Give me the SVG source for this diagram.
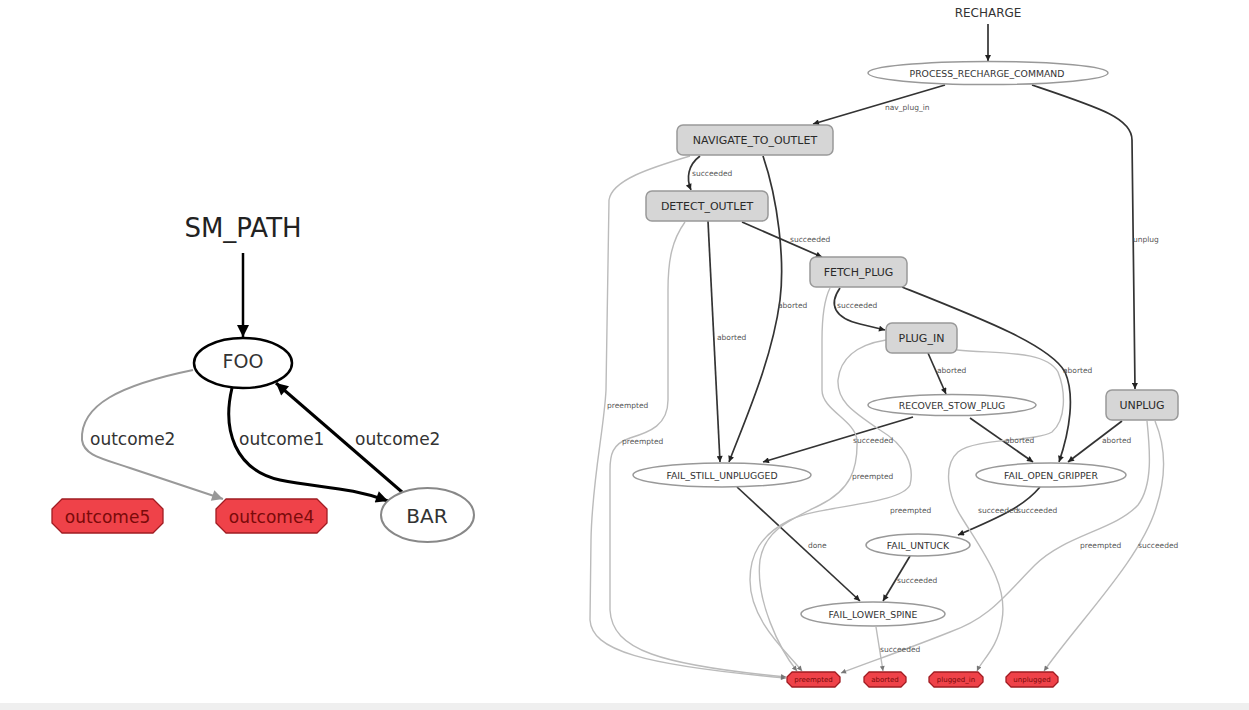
<svg xmlns="http://www.w3.org/2000/svg" width="1249" height="710" viewBox="0 0 1249 710">
<style>
text{font-family:"DejaVu Sans","Liberation Sans",sans-serif;fill:#333}
.big{font-size:26px;fill:#222}
.lbl{font-size:17px;fill:#333}
.nl{font-size:11px;text-anchor:middle;fill:#2a2a2a}
.ne{font-size:9.3px;text-anchor:middle}
.el{font-size:7.5px;fill:#555}
.ot{font-size:17px;text-anchor:middle;fill:#7a0a0a}
.ots{font-size:7px;text-anchor:middle;fill:#7a0a0a}
.rect{fill:#d6d6d6;stroke:#999;stroke-width:1.5}
.ell{fill:#fff;stroke:#999;stroke-width:1.5}
.out{fill:#ef4249;stroke:#a01c22;stroke-width:1.3;stroke-linejoin:round}
.e{fill:none;stroke:#333;stroke-width:1.7;marker-end:url(#ah)}
.g{fill:none;stroke:#bbb;stroke-width:1.4;marker-end:url(#ahg)}
</style>
<defs>
<marker id="ah" viewBox="0 0 10 10" refX="10" refY="5" markerWidth="7" markerHeight="6" markerUnits="userSpaceOnUse" orient="auto"><path d="M0,0 L10,5 L0,10 z" fill="#222"/></marker>
<marker id="ahg" viewBox="0 0 10 10" refX="10" refY="5" markerWidth="6" markerHeight="5" markerUnits="userSpaceOnUse" orient="auto"><path d="M0,0 L10,5 L0,10 z" fill="#777"/></marker>
<marker id="ahb" viewBox="0 0 10 10" refX="10" refY="5" markerWidth="14" markerHeight="12" markerUnits="userSpaceOnUse" orient="auto"><path d="M0,0 L10,5 L0,10 z" fill="#000"/></marker>
<marker id="ahbg" viewBox="0 0 10 10" refX="10" refY="5" markerWidth="14" markerHeight="11" markerUnits="userSpaceOnUse" orient="auto"><path d="M0,0 L10,5 L0,10 z" fill="#999"/></marker>
</defs>
<rect x="0" y="0" width="1249" height="710" fill="#fff"/>
<rect x="0" y="703" width="1249" height="7" fill="#efefef"/>

<!-- LEFT DIAGRAM -->
<g id="left-connectors">
<path d="M243,253 L243,337" fill="none" stroke="#000" stroke-width="2.5" marker-end="url(#ahb)"/>
<path d="M232,388 C222,430 235,470 280,480 C320,488 350,487 388,501" fill="none" stroke="#000" stroke-width="3" marker-end="url(#ahb)"/>
<path d="M402,492 L276,383" fill="none" stroke="#000" stroke-width="3" marker-end="url(#ahb)"/>
<path d="M193,370 C120,385 80,405 82,440 C84,455 100,458 130,468 L223,499" fill="none" stroke="#999" stroke-width="2" marker-end="url(#ahbg)"/>
<text class="lbl" x="90" y="445">outcome2</text>
<text class="lbl" x="239" y="445">outcome1</text>
<text class="lbl" x="355" y="445">outcome2</text>
</g>
<g id="SM_PATH"><text class="big" x="243" y="237" text-anchor="middle">SM_PATH</text></g>
<g id="FOO"><ellipse cx="243" cy="363" rx="49" ry="25" fill="#fff" stroke="#000" stroke-width="2.5"/><text x="243" y="368" font-size="19" text-anchor="middle" fill="#222">FOO</text></g>
<g id="BAR"><ellipse cx="427.5" cy="515" rx="46.5" ry="27" fill="#fff" stroke="#888" stroke-width="2"/><text x="427" y="523" font-size="20" text-anchor="middle" fill="#222">BAR</text></g>
<g id="outcome5"><polygon class="out" points="62,499 153,499 163,509 163,523 153,533 62,533 52,523 52,509"/><text class="ot" x="107.5" y="523">outcome5</text></g>
<g id="outcome4"><polygon class="out" points="226,499 317,499 327,509 327,523 317,533 226,533 216,523 216,509"/><text class="ot" x="271.5" y="523">outcome4</text></g>

<!-- RIGHT DIAGRAM -->
<g id="connectors">
<path class="e" d="M988,24 L988,61"/>
<path class="e" d="M945,85 L813,124"/>
<path class="e" d="M1032,85 C1100,108 1132,118 1132,140 L1135,389"/>
<path class="e" d="M700,156 C688,165 686,178 691,190"/>
<path class="e" d="M763,156 C778,200 785,260 780,300 C772,360 745,420 729,462"/>
<path class="e" d="M708,221 L720,462"/>
<path class="e" d="M742,222 L822,257"/>
<path class="e" d="M840,288 C828,305 835,318 860,324 L885,330"/>
<path class="e" d="M902,287 C980,318 1050,345 1065,372 C1075,395 1070,430 1059,462"/>
<path class="e" d="M928,353 L946,394"/>
<path class="e" d="M913,417 L763,462"/>
<path class="e" d="M970,418 L1033,462"/>
<path class="e" d="M1122,421 L1068,462"/>
<path class="e" d="M1040,487 C1025,505 1005,515 958,535"/>
<path class="e" d="M910,556 L883,601"/>
<path class="e" d="M737,487 L860,601"/>
<path class="g" d="M876,627 L883,671"/>
<path class="g" d="M690,156 C650,168 612,180 609,200 L606,390 C604,430 592,480 591,540 L590,620 C592,650 640,665 786,678"/>
<path class="g" d="M685,222 C672,240 668,260 668,290 L668,400 C668,425 650,432 630,438 C612,444 610,455 610,470 L610,610 C612,650 660,665 786,677"/>
<path class="g" d="M830,288 C824,300 822,320 822,340 L822,390 C822,410 855,420 857,440 C858,470 850,490 820,505 C790,520 765,530 760,560 C755,600 780,650 797,671"/>
<path class="g" d="M886,340 C855,345 840,360 838,380 C837,400 850,410 880,430 C905,445 915,465 910,485 C900,505 820,505 790,520 C760,535 750,555 750,580 C750,620 785,650 802,671"/>
<path class="g" d="M957,350 C1000,354 1045,350 1058,372 C1066,392 1066,420 1052,432 C1035,442 975,438 958,452 C943,465 947,495 962,518 C985,555 1008,585 1002,620 C998,648 982,660 977,671"/>
<path class="g" d="M1147,421 C1150,450 1153,485 1138,505 C1115,530 1065,535 1035,565 C1005,595 990,618 950,632 C910,648 870,662 841,673"/>
<path class="g" d="M1155,421 C1165,445 1167,475 1156,508 C1140,560 1080,620 1044,671"/>
<text class="el" x="885" y="110">nav_plug_in</text>
<text class="el" x="1133" y="242">unplug</text>
<text class="el" x="692" y="176">succeeded</text>
<text class="el" x="778" y="308">aborted</text>
<text class="el" x="717" y="340">aborted</text>
<text class="el" x="790" y="242">succeeded</text>
<text class="el" x="837" y="308">succeeded</text>
<text class="el" x="1063" y="373">aborted</text>
<text class="el" x="937" y="373">aborted</text>
<text class="el" x="853" y="443">succeeded</text>
<text class="el" x="1005" y="443">aborted</text>
<text class="el" x="1102" y="443">aborted</text>
<text class="el" x="978" y="513">succeeded</text>
<text class="el" x="1017" y="513">succeeded</text>
<text class="el" x="897" y="583">succeeded</text>
<text class="el" x="808" y="548">done</text>
<text class="el" x="880" y="652">succeeded</text>
<text class="el" x="607" y="408">preempted</text>
<text class="el" x="622" y="444">preempted</text>
<text class="el" x="852" y="479">preempted</text>
<text class="el" x="890" y="513">preempted</text>
<text class="el" x="1080" y="548">preempted</text>
<text class="el" x="1138" y="548">succeeded</text>
</g>
<g id="RECHARGE"><text x="988" y="17" font-size="12" text-anchor="middle" fill="#333">RECHARGE</text></g>
<g id="PROCESS_RECHARGE_COMMAND"><ellipse class="ell" cx="988" cy="73" rx="120" ry="11.5"/><text class="ne" x="987" y="76.5">PROCESS_RECHARGE_COMMAND</text></g>
<g id="NAVIGATE_TO_OUTLET"><rect class="rect" x="677" y="125" width="156" height="30" rx="6"/><text class="nl" x="755" y="144">NAVIGATE_TO_OUTLET</text></g>
<g id="DETECT_OUTLET"><rect class="rect" x="646" y="191" width="122" height="30" rx="6"/><text class="nl" x="707" y="210">DETECT_OUTLET</text></g>
<g id="FETCH_PLUG"><rect class="rect" x="810" y="257" width="97" height="30" rx="6"/><text class="nl" x="858.5" y="276">FETCH_PLUG</text></g>
<g id="PLUG_IN"><rect class="rect" x="886" y="323" width="71" height="30" rx="6"/><text class="nl" x="921.5" y="342">PLUG_IN</text></g>
<g id="UNPLUG"><rect class="rect" x="1106" y="390" width="72" height="30" rx="6"/><text class="nl" x="1142" y="409">UNPLUG</text></g>
<g id="RECOVER_STOW_PLUG"><ellipse class="ell" cx="952" cy="405" rx="84" ry="10.5"/><text class="ne" x="952" y="408.5">RECOVER_STOW_PLUG</text></g>
<g id="FAIL_STILL_UNPLUGGED"><ellipse class="ell" cx="722" cy="475" rx="89" ry="12"/><text class="ne" x="722" y="478.5">FAIL_STILL_UNPLUGGED</text></g>
<g id="FAIL_OPEN_GRIPPER"><ellipse class="ell" cx="1051" cy="475" rx="75" ry="12"/><text class="ne" x="1051" y="478.5">FAIL_OPEN_GRIPPER</text></g>
<g id="FAIL_UNTUCK"><ellipse class="ell" cx="918" cy="545" rx="52" ry="11"/><text class="ne" x="918" y="548.5">FAIL_UNTUCK</text></g>
<g id="FAIL_LOWER_SPINE"><ellipse class="ell" cx="873" cy="614" rx="72" ry="12"/><text class="ne" x="873" y="617.5">FAIL_LOWER_SPINE</text></g>
<g id="preempted"><polygon class="out" points="792,672 835,672 840,677 840,682 835,687 792,687 787,682 787,677"/><text class="ots" x="813.5" y="682">preempted</text></g>
<g id="aborted"><polygon class="out" points="869,672 901,672 906,677 906,682 901,687 869,687 864,682 864,677"/><text class="ots" x="885" y="682">aborted</text></g>
<g id="plugged_in"><polygon class="out" points="934,672 978,672 983,677 983,682 978,687 934,687 929,682 929,677"/><text class="ots" x="956" y="682">plugged_in</text></g>
<g id="unplugged"><polygon class="out" points="1011,672 1053,672 1058,677 1058,682 1053,687 1011,687 1006,682 1006,677"/><text class="ots" x="1032" y="682">unplugged</text></g>
</svg>
